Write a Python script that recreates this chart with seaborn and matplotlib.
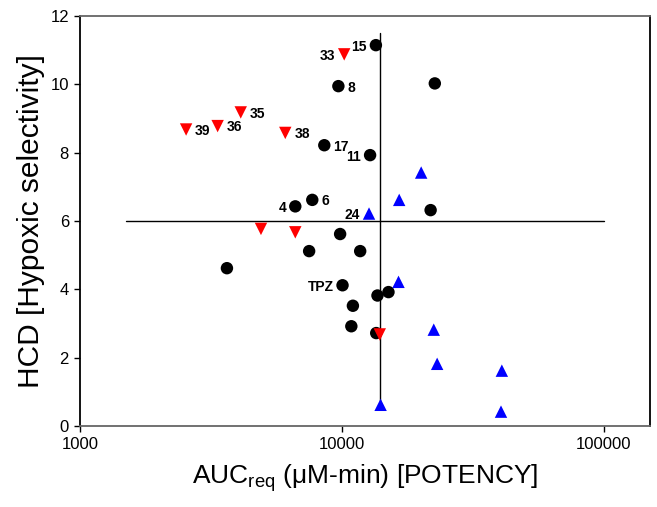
import numpy as np
import pandas as pd
import matplotlib
matplotlib.use("Agg")
import matplotlib.pyplot as plt
import seaborn as sns

# black circles
circle_auc = [13490, 9700, 8570, 12820, 7710, 6640, 22650, 21830, 9850, 7500,
              11750, 3640, 10060, 13680, 15070, 11020, 10870, 13530]
circle_hcd = [11.15, 9.95, 8.22, 7.93, 6.62, 6.43, 10.03, 6.32, 5.62, 5.12,
              5.12, 4.62, 4.12, 3.82, 3.92, 3.52, 2.92, 2.72]
circle_lbl = ["15", "8", "17", "11", "6", "4", "", "", "", "",
              "", "", "TPZ", "", "", "", "", ""]

# red down triangles
down_auc = [10210, 4110, 3354, 2542, 6080, 4910, 6640, 13960]
down_hcd = [10.88, 9.18, 8.78, 8.68, 8.58, 5.77, 5.67, 2.68]
down_lbl = ["33", "35", "36", "39", "38", "", "", ""]

# blue up triangles
up_auc = [12700, 20090, 16560, 16460, 22440, 23120, 40840, 40540, 14060]
up_hcd = [6.22, 7.42, 6.62, 4.22, 2.82, 1.82, 1.62, 0.42, 0.62]
up_lbl = ["24", "", "", "", "", "", "", "", ""]

# label side: -1 left of the point, +1 right
label_side = {"15": -1, "33": -1, "11": -1, "4": -1, "24": -1, "TPZ": -1,
              "8": 1, "35": 1, "36": 1, "39": 1, "38": 1, "17": 1, "6": 1}

hline_x = [1500, 100000]
hline_y = 6
vline_x = 14000
vline_y = [0.5, 11.5]

df = pd.DataFrame({
    "auc": circle_auc + down_auc + up_auc,
    "hcd": circle_hcd + down_hcd + up_hcd,
    "label": circle_lbl + down_lbl + up_lbl,
    "group": ["circle"] * len(circle_auc) + ["down"] * len(down_auc) + ["up"] * len(up_auc),
})

sns.set_style("ticks")
plt.rcParams["font.family"] = ["Liberation Sans", "DejaVu Sans"]
plt.rcParams["mathtext.fontset"] = "custom"
plt.rcParams["mathtext.rm"] = "Liberation Sans"
for k in ["text.color", "axes.labelcolor", "xtick.color", "ytick.color"]:
    plt.rcParams[k] = "black"

fig = plt.figure(figsize=(6.57, 5.07), dpi=100)
ax = fig.add_axes([0.1218, 0.1598, 0.8672, 0.8084])

ax.plot(hline_x, [hline_y, hline_y], color="black", lw=1, zorder=1)
ax.plot([vline_x, vline_x], vline_y, color="black", lw=1, zorder=1)

sns.scatterplot(data=df, x="auc", y="hcd", hue="group", style="group",
                palette={"circle": "black", "down": "red", "up": "blue"},
                markers={"circle": "o", "down": "v", "up": "^"},
                s=80, edgecolor="none", legend=False, ax=ax, zorder=3)

ax.set_xscale("log")
ax.set_xlim(1000, 150000)
ax.set_ylim(0, 12)
ax.set_xticks([1000, 10000, 100000])
ax.set_xticklabels(["1000", "10000", "100000"])
ax.minorticks_off()
ax.set_yticks(range(0, 13, 2))

for _, r in df[df["label"] != ""].iterrows():
    side = label_side[r["label"]]
    ax.annotate(r["label"], (r["auc"], r["hcd"]), xytext=(6.5 * side, -1),
                textcoords="offset points", ha="left" if side > 0 else "right",
                va="center", fontsize=10, fontweight="bold")

ax.tick_params(axis="both", labelsize=12, direction="out", length=4.5,
               width=1, color="black")
ax.spines["left"].set_color("black")
ax.spines["right"].set_color("black")
ax.spines["top"].set_color("#666666")
ax.spines["bottom"].set_color("#666666")
for sp in ax.spines.values():
    sp.set_linewidth(1.3)

ax.set_xlabel(r"AUC$_{\mathrm{req}}$ (μM-min) [POTENCY]", fontsize=19, labelpad=7)
ax.set_ylabel("HCD [Hypoxic selectivity]", fontsize=21.5, labelpad=4)

fig.savefig("out.png", dpi=100)
